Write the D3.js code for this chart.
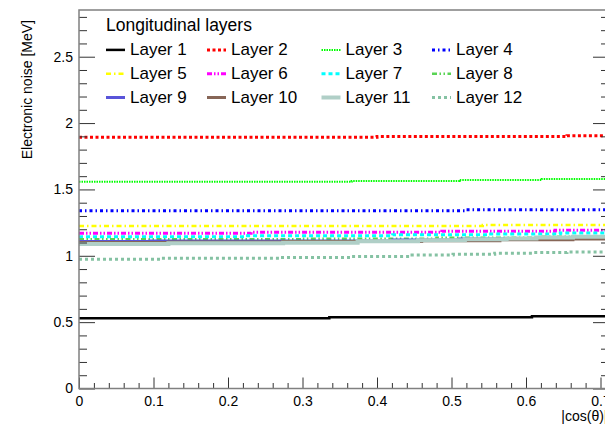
<!DOCTYPE html>
<html><head><meta charset="utf-8">
<script src="https://cdn.jsdelivr.net/npm/d3@7"></script>
<style>
body{margin:0;background:#fff}
svg{display:block;font-family:"Liberation Sans",Arial,Helvetica,sans-serif}
</style>
</head><body>
<svg id="chart" width="605" height="430"></svg>
<script>
// ---------------- data ----------------
const layerNames = ["Layer 1","Layer 2","Layer 3","Layer 4","Layer 5","Layer 6",
                    "Layer 7","Layer 8","Layer 9","Layer 10","Layer 11","Layer 12"];
// each entry: [bin lower edge in |cos(theta)|, electronic noise in MeV]
const layer1  = [[0,0.529],[0.336,0.536],[0.608,0.544]];
const layer2  = [[0,1.893],[0.400,1.898],[0.655,1.905]];
const layer3  = [[0,1.558],[0.366,1.564],[0.511,1.571],[0.621,1.579]];
const layer4  = [[0,1.340],[0.518,1.347]];
const layer5  = [[0,1.225],[0.542,1.232]];
const layer6  = [[0,1.170],[0.231,1.177],[0.487,1.185],[0.639,1.192]];
const layer7  = [[0,1.144],[0.223,1.151],[0.421,1.159],[0.548,1.165],[0.646,1.172]];
const layer8  = [[0,1.124],[0.300,1.129],[0.480,1.136],[0.620,1.143]];
const layer9  = [[0,1.108],[0.095,1.112],[0.421,1.119],[0.511,1.126],[0.628,1.134],[0.695,1.140]];
const layer10 = [[0,1.100],[0.120,1.104],[0.274,1.108],[0.460,1.114],[0.565,1.120],[0.663,1.127]];
const layer11 = [[0,1.089],[0.120,1.094],[0.274,1.099],[0.374,1.109],[0.455,1.117],[0.518,1.125],[0.574,1.131],[0.614,1.138],[0.663,1.144]];
const layer12 = [[0,0.973],[0.109,0.981],[0.270,0.988],[0.366,0.995],[0.447,1.005],[0.502,1.011],[0.558,1.019],[0.608,1.024],[0.655,1.029]];
const layers = [layer1,layer2,layer3,layer4,layer5,layer6,layer7,layer8,layer9,layer10,layer11,layer12];

const xDomainMax = 0.7114;
const yDomainMax = 2.852;
const xTickValues = [0,0.1,0.2,0.3,0.4,0.5,0.6,0.7];
const xTickLabels = ["0","0.1","0.2","0.3","0.4","0.5","0.6","0.7"];
const yTickValues = [0,0.5,1,1.5,2,2.5];
const yTickLabels = ["0","0.5","1","1.5","2","2.5"];
const xTitle = "|cos(\u03b8)|";
const yTitle = "Electronic noise [MeV]";
const legendTitle = "Longitudinal layers";

// ---------------- styles ----------------
const styles = [
  {color:"#000000", width:2.5, dash:null},
  {color:"#ff0000", width:3,   dash:"3 2.5"},
  {color:"#00ff00", width:2,   dash:"1.5 1"},
  {color:"#0000ff", width:3,   dash:"3 3 1.5 3"},
  {color:"#ffff00", width:2.5, dash:"5 3 1.5 3"},
  {color:"#ff00ff", width:3,   dash:"5 2 1.5 2 1.5 2"},
  {color:"#00ffff", width:3,   dash:"4 3"},
  {color:"#59d454", width:2.5, dash:"5 2.5 1.5 2.5 1.5 2.5"},
  {color:"#5954d9", width:3,   dash:null},
  {color:"#876657", width:3,   dash:null},
  {color:"#b0cfc7", width:4,   dash:null},
  {color:"#85c2a3", width:3,   dash:"3 3"}
];

const svg = d3.select("#chart");
const L = 79, R = 609, T = 10, B = 388.5;
const x = d3.scaleLinear().domain([0, xDomainMax]).range([L, R]);
const y = d3.scaleLinear().domain([0, yDomainMax]).range([B, T]);

svg.append("defs").append("clipPath").attr("id","frame")
  .append("rect").attr("x",L).attr("y",T).attr("width",R-L).attr("height",B-T);

// ---------------- series ----------------
const line = d3.line().x(d=>x(d[0])).y(d=>y(d[1])).curve(d3.curveStepAfter);
const gSeries = svg.append("g").attr("clip-path","url(#frame)");
layers.forEach((pts,i)=>{
  const full = pts.concat([[xDomainMax, pts[pts.length-1][1]]]);
  const st = styles[i];
  gSeries.append("path").datum(full)
    .attr("d", line)
    .attr("fill","none")
    .attr("stroke", st.color)
    .attr("stroke-width", st.width)
    .attr("stroke-dasharray", st.dash)
    .attr("stroke-linecap","butt");
});

// ---------------- axes ----------------
const axisColor = "#808080";
const tickColor = "#333";
const yMinor = d3.range(0, 2.85, 0.1).filter(v=>Math.abs(v*2-Math.round(v*2))>1e-6);
const xMinor = d3.range(0, 0.711, 0.02).filter(v=>Math.abs(v*10-Math.round(v*10))>1e-6);

function styleAxis(g){
  g.attr("font-size",null).attr("font-family",null);
  g.select(".domain").remove();
  g.selectAll(".tick line").attr("stroke", tickColor).attr("stroke-width",1);
  g.selectAll(".tick text").attr("fill","#000").style("font-size","14px")
    .style("font-family",'"Liberation Sans",Arial,Helvetica,sans-serif');
}

// left
svg.append("g").attr("transform",`translate(${L},0)`)
  .call(d3.axisLeft(y).tickValues(yTickValues).tickFormat((d,i)=>yTickLabels[i])
        .tickSizeInner(-16).tickSizeOuter(0).tickPadding(6))
  .call(styleAxis);
svg.append("g").attr("transform",`translate(${L},0)`)
  .call(d3.axisLeft(y).tickValues(yMinor).tickFormat("").tickSizeInner(-8).tickSizeOuter(0))
  .call(styleAxis);
// right
svg.append("g").attr("transform",`translate(${R},0)`)
  .call(d3.axisRight(y).tickValues(yTickValues).tickFormat("").tickSizeInner(-16).tickSizeOuter(0))
  .call(styleAxis);
svg.append("g").attr("transform",`translate(${R},0)`)
  .call(d3.axisRight(y).tickValues(yMinor).tickFormat("").tickSizeInner(-8).tickSizeOuter(0))
  .call(styleAxis);
// bottom
svg.append("g").attr("transform",`translate(0,${B})`)
  .call(d3.axisBottom(x).tickValues(xTickValues).tickFormat((d,i)=>xTickLabels[i])
        .tickSizeInner(-11).tickSizeOuter(0).tickPadding(8))
  .call(styleAxis);
svg.append("g").attr("transform",`translate(0,${B})`)
  .call(d3.axisBottom(x).tickValues(xMinor).tickFormat("").tickSizeInner(-5.5).tickSizeOuter(0))
  .call(styleAxis);

// frame
svg.append("rect").attr("x",L).attr("y",T).attr("width",R-L).attr("height",B-T)
  .attr("fill","none").attr("stroke",axisColor).attr("stroke-width",1.5);

// titles
svg.append("text").attr("x",607.5).attr("y",420.5).attr("text-anchor","end")
  .style("font-size","14px").text(xTitle);
svg.append("text").attr("transform","translate(32,20) rotate(-90)").attr("text-anchor","end")
  .style("font-size","14px").text(yTitle);

// ---------------- legend ----------------
const gLeg = svg.append("g");
gLeg.append("text").attr("x",106).attr("y",31.4).style("font-size","17.5px").text(legendTitle);
const colX = [106, 207, 321.5, 432];
const rowBase = [55.4, 79.2, 103];
layerNames.forEach((name,i)=>{
  const c = i % 4, r = Math.floor(i/4);
  const st = styles[i];
  const yl = rowBase[r] - 5.5;
  gLeg.append("line").attr("x1",colX[c]).attr("x2",colX[c]+19).attr("y1",yl).attr("y2",yl)
    .attr("stroke",st.color).attr("stroke-width",st.width).attr("stroke-dasharray",st.dash);
  gLeg.append("text").attr("x",colX[c]+24).attr("y",rowBase[r]).style("font-size","17px").text(name);
});
</script>
</body></html>
